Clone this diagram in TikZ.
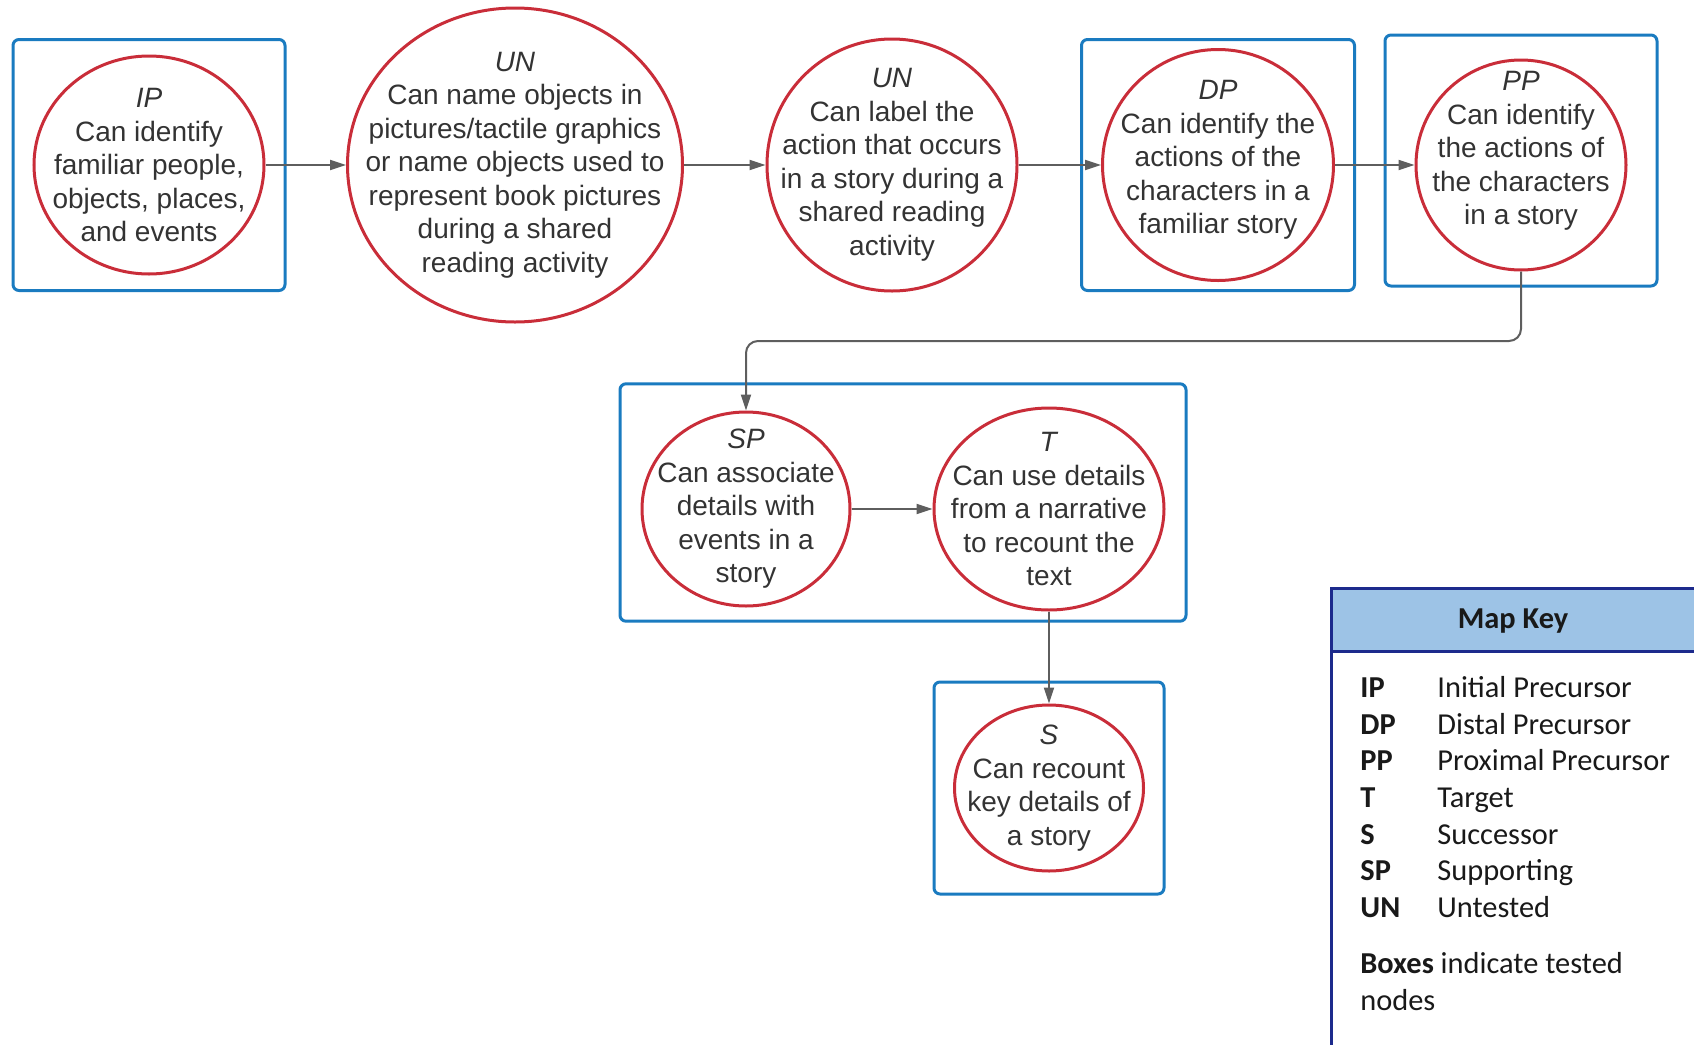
\documentclass[tikz,border=0pt]{standalone}
\usepackage{fontspec}
\setmainfont{Liberation Sans}
\newfontfamily\keyfont{Carlito}
\usepackage{tikz}
\usetikzlibrary{arrows.meta,shapes.geometric,positioning,fit}
\definecolor{nodered}{HTML}{C92D39}
\definecolor{boxblue}{HTML}{1A7BC0}
\definecolor{linegrey}{HTML}{5E5E5E}
\definecolor{textgrey}{HTML}{333333}
\definecolor{keynavy}{HTML}{1C2A8C}
\definecolor{keyfill}{HTML}{9DC3E6}

\begin{document}
\begin{tikzpicture}[x=0.5pt, y=-0.5pt, >={Triangle[length=8pt, width=5pt]},
	skill/.style={ellipse, draw=nodered, line width=1.5pt, text=textgrey, align=center, inner sep=-90pt, font=\fontsize{14}{16.75}\selectfont},
	tested/.style={rectangle, draw=boxblue, line width=1.5pt, rounded corners=3pt},
	link/.style={->, draw=linegrey, line width=1pt},
	keytext/.style={anchor=base west, inner sep=0pt, text=black!90, font=\keyfont\fontsize{15.2}{18.3}\selectfont}]
	\useasboundingbox (0,0) rectangle (1694,1045);
	\clip (0,0) rectangle (1694,1045);
	\node[skill, minimum width=115pt, minimum height=109pt]	(ip) at (149, 165)  {\textit{IP}\\Can identify\\familiar people,\\objects, places,\\and events};
	\node[skill, minimum width=167.5pt, minimum height=157pt]	(una) at (515, 165)  {\textit{UN}\\Can name objects in\\pictures/tactile graphics\\or name objects used to\\represent book pictures\\during a shared\\reading activity};
	\node[skill, minimum width=125pt, minimum height=126pt]	(unb) at (892, 165)  {\textit{UN}\\Can label the\\action that occurs\\in a story during a\\shared reading\\activity};
	\node[skill, minimum width=115.5pt, minimum height=115.5pt]	(dp) at (1218, 165)  {\textit{DP}\\Can identify the\\actions of the\\characters in a\\familiar story\\[-9pt]};
	\node[skill, minimum width=105pt, minimum height=105pt]	(pp) at (1521, 165)  {\textit{PP}\\Can identify\\the actions of\\the characters\\in a story\\};
	\node[skill, minimum width=104pt, minimum height=97pt]	(sp) at (746, 509)  {\textit{SP}\\Can associate\\details with\\events in a\\story};
	\node[skill, minimum width=115pt, minimum height=101pt]	(t) at (1049, 509)  {\textit{T}\\Can use details\\from a narrative\\to recount the\\text};
	\node[skill, minimum width=94.5pt, minimum height=83pt]	(s) at (1049, 788)  {\textit{S}\\Can recount\\key details of\\a story};
	\node[tested, inner xsep=9.75pt, inner ysep=7.5pt, fit=(ip)] (ipbox) {};
	\node[tested, inner xsep=9.75pt, inner ysep=4.25pt, fit=(dp)] (dpbox) {};
	\node[tested, inner xsep=14.75pt, inner ysep=9.5pt, yshift=2.25pt, fit=(pp)] (ppbox) {};
	\node[tested, inner xsep=10.25pt, inner ysep=8.1pt, yshift=3.25pt, fit=(sp) (t)] (spbox) {};
	\node[tested, inner xsep=9.5pt, inner ysep=10.75pt, fit=(s)] (sbox) {};
	\coordinate (bend) at (0, 341);
	\path (ip) edge[link] (una);
	\path (una) edge[link] (unb);
	\path (unb) edge[link] (dp);
	\path (dp) edge[link] (pp);
	\draw[link, rounded corners=6pt] (pp.south) -- (pp.south |- bend) -- (sp.north |- bend) -- (sp.north);
	\path (sp) edge[link] (t);
	\path (t) edge[link] (s);
	\draw[keynavy, line width=1.5pt, fill=white] (1331, 588) rectangle (1720, 1070);
	\filldraw[fill=keyfill, draw=keynavy, line width=1.5pt] (1331, 588) rectangle (1720, 651);
	\node[keytext, anchor=base, font=\keyfont\bfseries\fontsize{15.2}{18.3}\selectfont] (keytitle) at (1513, 628) {Map Key};
	\node[keytext] (kip) at (1360, 697) {\textbf{IP}};
	\node[keytext] (kipd) at (1437, 697) {Initial Precursor};
	\node[keytext] (kdp) at (1360, 734) {\textbf{DP}};
	\node[keytext] (kdpd) at (1437, 734) {Distal Precursor};
	\node[keytext] (kpp) at (1360, 770) {\textbf{PP}};
	\node[keytext] (kppd) at (1437, 770) {Proximal Precursor};
	\node[keytext] (kt) at (1360, 807) {\textbf{T}};
	\node[keytext] (ktd) at (1437, 807) {Target};
	\node[keytext] (ks) at (1360, 844) {\textbf{S}};
	\node[keytext] (ksd) at (1437, 844) {Successor};
	\node[keytext] (ksp) at (1360, 880) {\textbf{SP}};
	\node[keytext] (kspd) at (1437, 880) {Supporting};
	\node[keytext] (kun) at (1360, 917) {\textbf{UN}};
	\node[keytext] (kund) at (1437, 917) {Untested};
	\node[keytext] (kbox) at (1360, 973) {\textbf{Boxes} indicate tested};
	\node[keytext] (knodes) at (1360, 1010) {nodes};
\end{tikzpicture}
\end{document}
